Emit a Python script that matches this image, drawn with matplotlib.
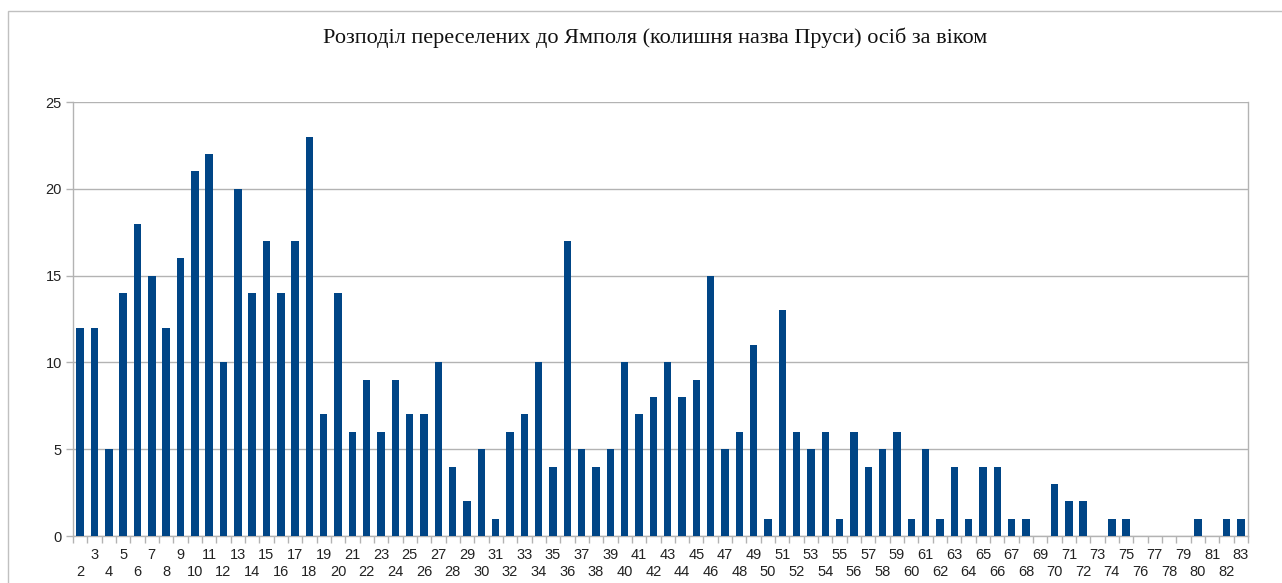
import numpy as np
import matplotlib
matplotlib.use("Agg")
import matplotlib.pyplot as plt
from matplotlib.patches import Rectangle
from matplotlib.ticker import FixedLocator

ages = list(range(2, 84))
counts = [12, 12, 5, 14, 18, 15, 12, 16, 21, 22, 10, 20, 14, 17, 14, 17, 23, 7, 14,
          6, 9, 6, 9, 7, 7, 10, 4, 2, 5, 1, 6, 7, 10, 4, 17, 5, 4, 5, 10, 7, 8, 10,
          8, 9, 15, 5, 6, 11, 1, 13, 6, 5, 6, 1, 6, 4, 5, 6, 1, 5, 1, 4, 1, 4, 4, 1,
          1, 0, 3, 2, 2, 0, 1, 1, 0, 0, 0, 0, 1, 0, 1, 1]
title = "Розподіл переселених до Ямполя (колишня назва Пруси) осіб за віком"

W, H = 1282, 583
fig = plt.figure(figsize=(W / 100, H / 100), dpi=100)
fig.patch.set_facecolor("white")

# outer frame (only left and top edges visible)
fig.add_artist(Rectangle((8 / W, -0.1), 1.2, 1 - 11 / H + 0.1, transform=fig.transFigure,
                         fill=False, edgecolor="#c0c0c0", linewidth=1.0))

ax = fig.add_axes([73 / W, 1 - 536 / H, (1248 - 73) / W, (536 - 102) / H])
x = np.arange(len(ages))
ax.bar(x, counts, width=0.52, color="#004586", zorder=3)

ax.set_xlim(-0.5, len(ages) - 0.5)
ax.set_ylim(0, 25)
ax.set_yticks([0, 5, 10, 15, 20, 25])
ax.yaxis.grid(True, color="#b3b3b3", linewidth=1.0, zorder=0)

for s in ["left", "right", "top", "bottom"]:
    ax.spines[s].set_color("#b3b3b3")
    ax.spines[s].set_linewidth(1.0)
ax.spines["top"].set_visible(False)

label_kw = dict(fontfamily="Liberation Sans", fontsize=10.5, color="#222222")

# first row: odd ages
odd_idx = [i for i, a in enumerate(ages) if a % 2]
even_idx = [i for i, a in enumerate(ages) if a % 2 == 0]
ax.set_xticks(odd_idx)
ax.set_xticklabels([str(ages[i]) for i in odd_idx], **label_kw)
ax.tick_params(axis="x", which="major", length=0, pad=8.6)
ax.xaxis.set_minor_locator(FixedLocator(np.arange(-0.5, len(ages), 1.0)))
ax.tick_params(axis="x", which="minor", length=5, color="#b3b3b3", width=1)

# second row: even ages
sec = ax.secondary_xaxis("bottom")
sec.set_xticks(even_idx)
sec.set_xticklabels([str(ages[i]) for i in even_idx], **label_kw)
sec.tick_params(axis="x", length=0, pad=20.8)
sec.spines["bottom"].set_visible(False)

ax.tick_params(axis="y", length=5, color="#b3b3b3", width=1, pad=3,
               labelsize=10.5, labelcolor="#222222")
for lbl in ax.get_yticklabels():
    lbl.set_fontfamily("Liberation Sans")

fig.text(655 / W, 1 - 38 / H, title, ha="center", va="center",
         fontfamily="Liberation Serif", fontsize=16, color="#111111")

fig.savefig("out.png", dpi=100)
